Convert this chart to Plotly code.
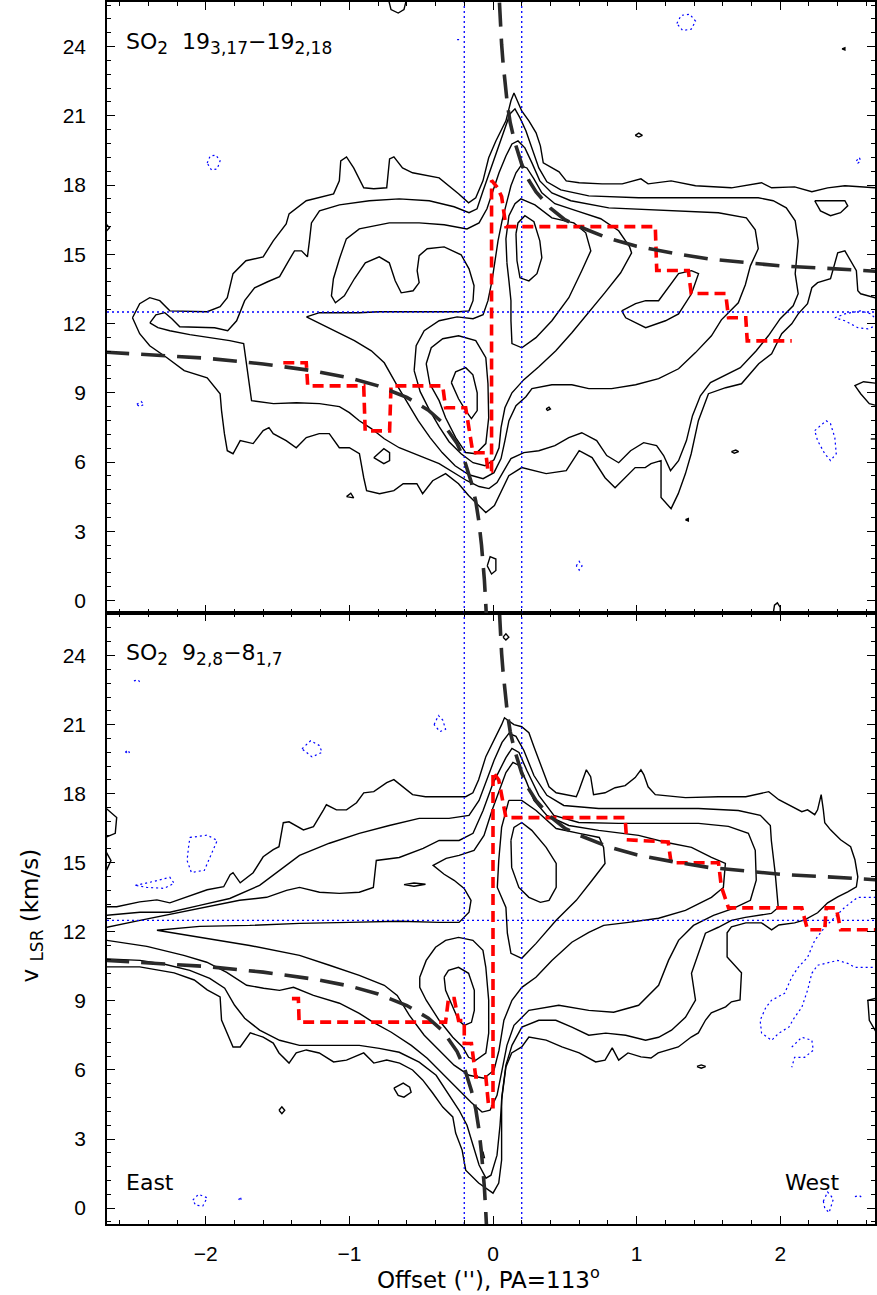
import plotly.graph_objects as go

# ---------------- axes ----------------
X_RANGE = [-2.6875, 2.6597]
V_RANGE_TOP = [-0.54, 25.93]
V_RANGE_BOT = [-0.69, 25.85]

# ---------------- model / overlays ----------------
kep_right = [(0.045, 25.9), (0.05, 25.2), (0.06, 24.1), (0.07, 23.3), (0.08, 22.6), (0.10, 21.5),
             (0.12, 20.7), (0.15, 19.9), (0.20, 18.9), (0.25, 18.2), (0.30, 17.7), (0.40, 17.0),
             (0.50, 16.5), (0.60, 16.2), (0.80, 15.7), (1.0, 15.35), (1.25, 15.05), (1.5, 14.8),
             (1.75, 14.65), (2.0, 14.5), (2.3, 14.4), (2.7, 14.25)]
kep_left = [(-2.7, 10.76), (-2.4, 10.66), (-2.0, 10.5), (-1.6, 10.25), (-1.25, 9.95), (-1.0, 9.65),
            (-0.8, 9.3), (-0.6, 8.8), (-0.45, 8.25), (-0.35, 7.7), (-0.25, 6.8), (-0.2, 6.1),
            (-0.15, 5.1), (-0.12, 4.3), (-0.10, 3.5), (-0.08, 2.4), (-0.07, 1.7), (-0.06, 0.9),
            (-0.05, -0.2), (-0.045, -0.8)]

top_red = [(-1.46, 10.3), (-1.30, 10.3), (-1.29, 9.3), (-0.90, 9.3), (-0.89, 7.35), (-0.72, 7.35),
           (-0.71, 9.3), (-0.35, 9.3), (-0.33, 8.35), (-0.19, 8.35), (-0.14, 6.4), (-0.05, 6.4),
           (-0.035, 5.6), (-0.01, 5.6), (-0.01, 18.2), (0.03, 17.9), (0.06, 17.5), (0.09, 16.2),
           (1.13, 16.2), (1.14, 14.3), (1.36, 14.3), (1.38, 13.3), (1.62, 13.3), (1.64, 12.25),
           (1.76, 12.25), (1.77, 11.25), (2.08, 11.25)]
bot_red = [(-1.40, 9.1), (-1.355, 9.1), (-1.35, 8.08), (-0.33, 8.08), (-0.31, 9.1), (-0.27, 9.1),
           (-0.24, 8.15), (-0.20, 8.15), (-0.20, 7.15), (-0.15, 7.15), (-0.12, 5.7), (-0.05, 5.7),
           (-0.03, 4.4), (0.0, 4.4), (0.0, 18.95), (0.04, 18.6), (0.09, 16.96), (0.92, 16.96),
           (0.93, 16.0), (1.22, 15.9), (1.24, 15.0), (1.57, 15.0), (1.59, 13.96), (1.64, 13.04),
           (2.15, 13.04), (2.19, 12.09), (2.31, 12.09), (2.32, 13.04), (2.39, 13.04), (2.42, 12.09),
           (2.7, 12.09)]

ref_offsets = [-0.2, 0.2]
ref_vsys = 12.5

# ---------------- contours: top panel (SO2 19_3,17-19_2,18) ----------------
top_c1 = [(-2.51, 12.25), (-2.46, 12.86), (-2.39, 13.12), (-2.32, 12.99), (-2.25, 12.55), (-1.99, 12.51),
          (-1.90, 12.73), (-1.85, 13.12), (-1.81, 14.16), (-1.72, 14.72), (-1.60, 14.89), (-1.53, 15.58),
          (-1.44, 16.32), (-1.42, 16.75), (-1.30, 17.32), (-1.11, 17.62), (-1.07, 18.18), (-1.06, 19.05),
          (-1.02, 19.22), (-0.97, 18.74), (-0.90, 17.88), (-0.83, 17.84), (-0.74, 17.88), (-0.72, 19.13),
          (-0.69, 19.22), (-0.63, 18.74), (-0.56, 18.53), (-0.375, 18.31), (-0.24, 17.62), (-0.17, 17.23),
          (-0.12, 17.45), (-0.07, 18.18), (-0.03, 19.18), (0.02, 19.91), (0.09, 20.78), (0.125, 21.65),
          (0.146, 21.99), (0.20, 21.21), (0.25, 20.78), (0.30, 20.26), (0.33, 19.70), (0.35, 18.96),
          (0.46, 18.57), (0.51, 18.18), (0.60, 18.10), (0.76, 18.05), (0.90, 18.05), (1.03, 18.27),
          (1.08, 18.05), (1.24, 18.18), (1.41, 17.97), (1.66, 17.88), (1.87, 18.10), (1.94, 17.88),
          (2.10, 17.92), (2.22, 17.71), (2.33, 17.88), (2.45, 17.97), (2.66, 17.88), (2.75, 17.88),
          (2.75, 13.12), (2.66, 13.12), (2.56, 13.29), (2.54, 13.42), (2.53, 14.29), (2.49, 14.72),
          (2.45, 15.15), (2.40, 15.06), (2.35, 13.94), (2.26, 13.77), (2.22, 13.55), (2.19, 12.86),
          (2.125, 12.42), (2.08, 11.99), (2.01, 11.56), (1.94, 10.69), (1.85, 10.26), (1.73, 9.39),
          (1.62, 9.22), (1.50, 8.96), (1.43, 7.79), (1.38, 6.36), (1.34, 5.50), (1.29, 4.63),
          (1.24, 3.98), (1.17, 4.46), (1.17, 6.06), (1.10, 5.93), (1.06, 5.76), (0.99, 5.76),
          (0.92, 5.32), (0.85, 4.89), (0.78, 5.32), (0.69, 6.19), (0.60, 6.49), (0.51, 5.63),
          (0.37, 5.50), (0.20, 5.76), (0.11, 5.41), (0.06, 4.76), (0.01, 4.11), (-0.05, 3.81),
          (-0.10, 4.11), (-0.17, 4.55), (-0.24, 5.06), (-0.33, 5.50), (-0.42, 5.19), (-0.49, 4.63),
          (-0.53, 5.06), (-0.625, 5.06), (-0.69, 4.76), (-0.79, 4.63), (-0.88, 4.76), (-0.90, 5.32),
          (-0.93, 6.36), (-1.0, 6.62), (-1.07, 6.62), (-1.14, 7.23), (-1.21, 7.23), (-1.30, 7.06),
          (-1.37, 6.62), (-1.44, 6.93), (-1.53, 7.23), (-1.56, 7.49), (-1.60, 7.36), (-1.67, 6.80),
          (-1.76, 6.93), (-1.81, 6.36), (-1.85, 6.49), (-1.87, 7.23), (-1.89, 8.23), (-1.90, 8.96),
          (-1.99, 9.65), (-2.15, 9.96), (-2.27, 10.52), (-2.39, 11.04), (-2.46, 11.56), (-2.51, 12.25)]
top_c2 = [(-2.389, 12.03), (-2.347, 12.38), (-2.285, 12.47), (-2.236, 12.21), (-2.181, 11.86), (-2.042, 11.82),
          (-1.938, 11.82), (-1.847, 11.69), (-1.785, 12.12), (-1.729, 12.99), (-1.66, 13.55), (-1.569, 13.81),
          (-1.486, 14.03), (-1.431, 14.63), (-1.382, 15.15), (-1.333, 15.15), (-1.292, 14.89), (-1.278, 15.58),
          (-1.264, 16.36), (-1.208, 16.88), (-1.069, 17.14), (-0.861, 17.32), (-0.653, 17.40), (-0.444, 17.32),
          (-0.271, 17.06), (-0.167, 16.80), (-0.111, 16.97), (-0.069, 17.75), (-0.021, 18.61), (0.028, 19.48),
          (0.076, 20.35), (0.118, 21.08), (0.153, 21.30), (0.188, 20.91), (0.229, 20.35), (0.271, 19.61),
          (0.319, 18.74), (0.375, 18.14), (0.472, 17.79), (0.667, 17.53), (1.014, 17.45), (1.431, 17.45),
          (1.847, 17.45), (1.951, 17.32), (2.042, 17.01), (2.104, 16.45), (2.125, 15.58), (2.104, 14.16),
          (2.125, 13.29), (2.09, 12.77), (2.0, 12.21), (1.917, 11.47), (1.833, 10.82), (1.722, 10.09),
          (1.604, 9.74), (1.514, 9.44), (1.444, 8.87), (1.389, 8.01), (1.347, 6.93), (1.292, 6.06),
          (1.236, 5.63), (1.188, 6.28), (1.139, 6.71), (1.049, 6.84), (0.958, 6.49), (0.875, 5.97),
          (0.792, 6.28), (0.722, 6.93), (0.618, 7.27), (0.528, 7.06), (0.431, 6.71), (0.319, 6.49),
          (0.215, 6.41), (0.125, 6.15), (0.076, 5.63), (0.028, 5.11), (-0.028, 4.85), (-0.097, 4.94),
          (-0.181, 5.19), (-0.271, 5.54), (-0.375, 5.93), (-0.514, 6.28), (-0.653, 6.62), (-0.757, 7.01),
          (-0.847, 7.45), (-0.931, 7.79), (-1.0, 8.14), (-1.069, 8.40), (-1.208, 8.53), (-1.368, 8.57),
          (-1.528, 8.53), (-1.681, 8.66), (-1.715, 10.09), (-1.736, 11.13), (-1.833, 11.26), (-1.972, 11.39),
          (-2.111, 11.52), (-2.25, 11.69), (-2.333, 11.82), (-2.389, 12.03)]
top_c3 = [(-1.299, 12.29), (-1.208, 12.47), (-1.069, 12.47), (-0.931, 12.47), (-0.792, 12.51), (-0.653, 12.51),
          (-0.514, 12.51), (-0.375, 12.51), (-0.236, 12.51), (-0.167, 12.55), (-0.139, 12.99), (-0.132, 13.64),
          (-0.167, 14.37), (-0.222, 14.98), (-0.34, 15.32), (-0.458, 15.24), (-0.514, 14.94), (-0.528, 14.29),
          (-0.514, 13.77), (-0.556, 13.42), (-0.639, 13.33), (-0.681, 13.85), (-0.722, 14.63), (-0.792, 14.89),
          (-0.889, 14.63), (-0.965, 13.94), (-1.035, 13.20), (-1.097, 12.90), (-1.125, 13.20), (-1.111, 13.94),
          (-1.069, 14.81), (-1.021, 15.67), (-0.931, 16.10), (-0.722, 16.36), (-0.514, 16.36), (-0.34, 16.28),
          (-0.181, 16.10), (-0.097, 16.36), (-0.042, 16.97), (0.0, 17.75), (0.042, 18.53), (0.09, 19.26),
          (0.132, 19.78), (0.174, 19.91), (0.222, 19.61), (0.271, 18.96), (0.326, 18.18), (0.41, 17.66),
          (0.542, 17.32), (0.806, 17.01), (1.222, 16.88), (1.569, 16.80), (1.764, 16.58), (1.826, 16.06),
          (1.847, 15.24), (1.792, 14.50), (1.757, 13.68), (1.708, 12.90), (1.59, 12.16), (1.521, 11.47),
          (1.41, 10.74), (1.292, 10.04), (1.153, 9.61), (0.993, 9.35), (0.826, 9.18), (0.667, 9.18),
          (0.549, 9.35), (0.41, 9.35), (0.271, 9.18), (0.229, 8.83), (0.16, 8.44), (0.111, 7.79),
          (0.083, 6.93), (0.056, 6.15), (0.007, 5.54), (-0.069, 5.28), (-0.167, 5.45), (-0.264, 5.84),
          (-0.354, 6.41), (-0.438, 7.06), (-0.521, 7.79), (-0.597, 8.57), (-0.674, 9.39), (-0.757, 10.30),
          (-0.847, 10.82), (-0.965, 11.26), (-1.104, 11.69), (-1.208, 12.03), (-1.299, 12.29)]
top_c4 = [(-0.549, 9.96), (-0.535, 11.04), (-0.479, 11.69), (-0.375, 12.12), (-0.25, 12.29), (-0.139, 12.21),
          (-0.069, 12.38), (-0.035, 12.99), (-0.007, 13.85), (0.014, 14.72), (0.035, 15.58), (0.063, 16.45),
          (0.097, 17.32), (0.125, 17.97), (0.16, 18.53), (0.194, 18.83), (0.236, 18.74), (0.285, 18.27),
          (0.34, 17.66), (0.431, 17.19), (0.583, 16.88), (0.75, 16.54), (0.875, 16.02), (0.951, 15.32),
          (0.965, 15.06), (0.889, 14.20), (0.778, 13.33), (0.667, 12.47), (0.549, 11.60), (0.4375, 10.82),
          (0.319, 10.13), (0.215, 9.57), (0.132, 9.00), (0.083, 8.35), (0.056, 7.49), (0.042, 6.62),
          (0.007, 6.10), (-0.056, 5.84), (-0.139, 5.97), (-0.222, 6.36), (-0.306, 6.88), (-0.375, 7.53),
          (-0.444, 8.27), (-0.507, 9.05), (-0.549, 9.96)]
top_c5a = [(0.097, 14.63), (0.09, 15.67), (0.111, 16.67), (0.153, 17.19), (0.194, 17.40), (0.292, 17.14),
           (0.41, 16.58), (0.5625, 16.36), (0.646, 15.93), (0.681, 15.15), (0.618, 14.29), (0.528, 13.12),
           (0.41, 12.12), (0.299, 11.39), (0.201, 10.95), (0.132, 11.13), (0.125, 12.12), (0.125, 12.99),
           (0.111, 13.85), (0.097, 14.63)]
top_c6a = [(0.16, 15.89), (0.174, 16.36), (0.222, 16.67), (0.285, 16.41), (0.326, 15.58), (0.34, 14.85),
           (0.306, 14.16), (0.25, 13.85), (0.188, 13.98), (0.167, 14.72), (0.16, 15.89)]
top_c5b = [(-0.465, 10.26), (-0.43, 10.95), (-0.35, 11.34), (-0.24, 11.47), (-0.12, 11.26), (-0.05, 10.52),
           (-0.035, 9.39), (-0.03, 7.92), (-0.05, 6.80), (-0.12, 6.36), (-0.19, 6.41), (-0.26, 7.06),
           (-0.33, 7.92), (-0.375, 8.66), (-0.44, 9.39), (-0.465, 10.26)]
top_c6b = [(-0.29, 9.44), (-0.26, 9.91), (-0.19, 10.09), (-0.14, 9.78), (-0.11, 9.0), (-0.11, 8.23),
           (-0.15, 7.88), (-0.19, 8.23), (-0.24, 8.74), (-0.29, 9.44)]
top_islands = [
    [(0.896, 12.55), (0.993, 12.86), (1.063, 12.99), (1.153, 12.99), (1.292, 14.16), (1.382, 14.29),
     (1.431, 14.16), (1.382, 13.29), (1.292, 12.42), (1.201, 12.12), (1.063, 11.82), (0.924, 12.25), (0.896, 12.55)],
    [(-0.83, 6.19), (-0.76, 6.58), (-0.72, 6.41), (-0.72, 6.06), (-0.76, 5.93), (-0.83, 6.19)],
    [(-1.02, 4.5), (-0.99, 4.65), (-0.97, 4.45), (-1.02, 4.5)],
    [(-0.04, 1.5), (-0.02, 1.9), (0.02, 1.8), (0.02, 1.3), (-0.01, 1.15), (-0.04, 1.5)],
    [(0.99, 20.15), (1.015, 20.25), (1.04, 20.15), (1.015, 20.08), (0.99, 20.15)],
    [(0.37, 8.3), (0.39, 8.38), (0.40, 8.3), (0.38, 8.24), (0.37, 8.3)],
    [(1.66, 6.45), (1.69, 6.52), (1.71, 6.45), (1.68, 6.38), (1.66, 6.45)],
    [(2.24, 17.32), (2.33, 17.32), (2.45, 17.32), (2.47, 17.1), (2.42, 16.8), (2.35, 16.67), (2.28, 16.88), (2.24, 17.32)],
    [(2.70, 9.39), (2.58, 9.48), (2.52, 9.31), (2.56, 8.96), (2.62, 8.53), (2.70, 8.4)],
    [(-0.73, 26.1), (-0.71, 25.6), (-0.66, 25.45), (-0.62, 25.6), (-0.60, 26.1)],
    [(1.95, -0.6), (1.96, -0.2), (1.98, -0.1), (2.0, -0.3), (2.0, -0.6)],
    [(-2.70, 16.35), (-2.67, 16.15), (-2.70, 15.95)],
    [(2.43, 23.9), (2.45, 23.95), (2.45, 23.85), (2.43, 23.9)],
    [(1.34, 3.5), (1.36, 3.55), (1.36, 3.45), (1.34, 3.5)],
    [(2.63, 7.0), (2.66, 7.0)],
]
top_neg = [
    [(-1.99, 18.95), (-1.97, 19.25), (-1.93, 19.3), (-1.90, 19.05), (-1.92, 18.7), (-1.96, 18.65), (-1.99, 18.95)],
    [(-2.48, 8.5), (-2.45, 8.62), (-2.43, 8.5), (-2.46, 8.4), (-2.48, 8.5)],
    [(1.28, 25.0), (1.31, 25.35), (1.37, 25.4), (1.41, 25.1), (1.38, 24.75), (1.32, 24.7), (1.28, 25.0)],
    [(2.53, 19.05), (2.55, 19.2), (2.56, 19.05), (2.54, 18.95), (2.53, 19.05)],
    [(2.24, 7.36), (2.32, 7.79), (2.35, 7.66), (2.38, 7.06), (2.39, 6.36), (2.35, 6.06), (2.31, 6.36), (2.26, 6.93), (2.24, 7.36)],
    [(2.38, 12.25), (2.45, 12.42), (2.56, 12.55), (2.63, 12.42), (2.70, 11.99), (2.61, 11.77), (2.54, 11.82), (2.45, 12.12), (2.38, 12.25)],
    [(0.58, 1.5), (0.60, 1.7), (0.62, 1.5), (0.60, 1.32), (0.58, 1.5)],
    [(-0.25, 24.3), (-0.23, 24.3)],
]

# ---------------- contours: bottom panel (SO2 9_2,8-8_1,7) ----------------
bot_c1 = [(-2.75, 13.09), (-2.62, 13.09), (-2.46, 13.3), (-2.34, 13.39), (-2.25, 13.26), (-2.15, 13.48),
          (-1.99, 13.83), (-1.875, 13.96), (-1.83, 14.48), (-1.81, 14.57), (-1.76, 14.13), (-1.67, 14.57),
          (-1.60, 15.26), (-1.53, 15.57), (-1.49, 15.7), (-1.46, 16.74), (-1.42, 16.78), (-1.32, 16.43),
          (-1.25, 16.57), (-1.18, 17.3), (-1.16, 17.52), (-1.09, 17.3), (-1.02, 17.3), (-0.95, 17.61),
          (-0.90, 18.04), (-0.83, 18.09), (-0.74, 18.48), (-0.69, 18.61), (-0.625, 18.3), (-0.56, 17.96),
          (-0.47, 17.87), (-0.26, 17.87), (-0.19, 17.87), (-0.14, 18.04), (-0.10, 18.61), (-0.05, 19.61),
          (0.02, 20.48), (0.06, 21.0), (0.08, 21.3), (0.146, 21.0), (0.20, 20.91), (0.25, 20.65),
          (0.285, 20.04), (0.32, 19.48), (0.354, 18.91), (0.39, 18.3), (0.44, 18.04), (0.51, 17.96),
          (0.58, 17.87), (0.60, 18.17), (0.63, 18.74), (0.65, 19.04), (0.68, 18.74), (0.70, 17.96),
          (0.78, 18.04), (0.85, 18.26), (0.92, 18.35), (0.99, 18.7), (1.03, 19.04), (1.05, 18.83),
          (1.08, 18.3), (1.13, 17.96), (1.34, 17.83), (1.57, 17.87), (1.76, 17.87), (1.92, 18.09),
          (1.99, 17.74), (2.08, 17.43), (2.15, 17.22), (2.19, 17.3), (2.24, 17.09), (2.26, 17.3),
          (2.28, 17.87), (2.285, 17.96), (2.30, 17.3), (2.31, 16.74), (2.35, 16.43), (2.42, 16.0),
          (2.49, 15.7), (2.52, 15.13), (2.54, 14.39), (2.53, 13.96), (2.47, 13.74), (2.40, 13.52),
          (2.33, 13.26), (2.26, 12.83), (2.17, 12.52), (2.10, 12.39), (1.99, 12.3), (1.94, 12.09),
          (1.87, 12.39), (1.76, 12.39), (1.66, 12.22), (1.63, 11.96), (1.63, 10.91), (1.69, 10.48),
          (1.73, 10.22), (1.72, 9.04), (1.66, 8.96), (1.62, 8.74), (1.52, 8.48), (1.48, 8.17),
          (1.43, 7.61), (1.38, 7.43), (1.29, 7.0), (1.15, 6.74), (1.10, 6.52), (1.03, 6.57),
          (0.94, 6.74), (0.875, 6.43), (0.83, 6.96), (0.78, 6.43), (0.715, 6.35), (0.60, 6.74),
          (0.48, 7.0), (0.37, 7.3), (0.25, 7.43), (0.20, 7.0), (0.13, 6.74), (0.09, 6.13),
          (0.06, 4.7), (0.06, 3.26), (0.06, 2.09), (0.04, 1.09), (0.0, 0.65), (-0.10, 1.09),
          (-0.19, 1.65), (-0.215, 2.52), (-0.26, 3.26), (-0.28, 3.96), (-0.35, 4.39), (-0.42, 5.0),
          (-0.49, 5.57), (-0.56, 6.0), (-0.65, 6.3), (-0.74, 6.43), (-0.83, 6.3), (-0.90, 6.74),
          (-1.02, 6.43), (-1.11, 6.35), (-1.21, 6.74), (-1.30, 6.87), (-1.37, 6.74), (-1.42, 6.3),
          (-1.49, 6.74), (-1.53, 7.17), (-1.60, 7.43), (-1.69, 7.61), (-1.76, 7.0), (-1.81, 7.0),
          (-1.85, 7.61), (-1.89, 8.17), (-1.90, 9.17), (-1.99, 9.48), (-2.08, 9.91), (-2.22, 10.22),
          (-2.34, 10.35), (-2.46, 10.48), (-2.57, 10.48), (-2.75, 10.48)]
bot_c2 = [(-2.771, 12.72), (-2.6875, 12.72), (-2.458, 12.85), (-2.25, 12.85), (-2.042, 13.15), (-1.833, 13.45),
          (-1.625, 14.02), (-1.486, 14.67), (-1.347, 15.32), (-1.139, 15.85), (-0.931, 16.28), (-0.722, 16.62),
          (-0.514, 16.93), (-0.306, 16.93), (-0.167, 17.06), (-0.097, 17.71), (-0.042, 18.58), (0.007, 19.44),
          (0.063, 20.23), (0.111, 20.62), (0.16, 20.49), (0.215, 19.88), (0.285, 18.79), (0.375, 17.93),
          (0.493, 17.49), (0.736, 17.36), (1.083, 17.36), (1.431, 17.36), (1.708, 17.27), (1.861, 17.06),
          (1.931, 16.62), (1.938, 15.97), (1.965, 14.54), (1.986, 13.06), (1.938, 12.80), (1.757, 12.63),
          (1.660, 12.50), (1.569, 12.20), (1.479, 11.94), (1.431, 11.07), (1.382, 10.20), (1.41, 9.03),
          (1.340, 8.29), (1.243, 7.73), (1.153, 7.42), (1.0625, 7.29), (0.924, 7.51), (0.785, 7.60),
          (0.667, 7.51), (0.549, 7.86), (0.4375, 8.16), (0.319, 8.16), (0.201, 7.86), (0.132, 7.07),
          (0.09, 6.21), (0.063, 4.90), (0.049, 3.60), (0.028, 2.30), (-0.014, 1.43), (-0.049, 1.30),
          (-0.097, 1.87), (-0.139, 2.73), (-0.181, 3.60), (-0.236, 4.25), (-0.306, 4.90), (-0.396, 5.77),
          (-0.514, 6.34), (-0.653, 6.77), (-0.792, 6.94), (-0.931, 7.07), (-1.069, 7.07), (-1.208, 7.07),
          (-1.347, 7.07), (-1.486, 7.29), (-1.625, 7.73), (-1.729, 8.25), (-1.799, 8.81), (-1.868, 9.55),
          (-1.972, 9.98), (-2.111, 10.33), (-2.285, 10.59), (-2.458, 10.76), (-2.6875, 10.85), (-2.771, 10.85)]
bot_c3 = [(-2.771, 12.20), (-2.6875, 12.20), (-2.458, 12.50), (-2.222, 12.80), (-1.993, 13.06), (-1.764, 13.37),
          (-1.576, 13.50), (-1.4375, 13.80), (-1.347, 13.93), (-1.208, 13.72), (-1.069, 13.67), (-0.931, 13.72),
          (-0.833, 13.93), (-0.8125, 15.10), (-0.653, 15.23), (-0.486, 15.63), (-0.375, 15.97), (-0.236, 15.97),
          (-0.139, 16.28), (-0.069, 17.27), (0.0, 18.45), (0.09, 19.57), (0.132, 19.97), (0.181, 19.79),
          (0.236, 19.01), (0.319, 17.93), (0.424, 17.06), (0.597, 16.75), (0.875, 16.71), (1.153, 16.71),
          (1.431, 16.71), (1.639, 16.58), (1.778, 16.28), (1.826, 15.54), (1.833, 14.24), (1.792, 13.37),
          (1.674, 13.02), (1.535, 12.72), (1.396, 12.28), (1.292, 11.63), (1.222, 10.76), (1.153, 9.68),
          (1.014, 8.81), (0.840, 8.51), (0.667, 8.59), (0.458, 8.81), (0.25, 8.59), (0.146, 7.94),
          (0.097, 7.07), (0.063, 5.99), (0.028, 4.90), (-0.021, 4.25), (-0.076, 4.17), (-0.153, 4.60),
          (-0.25, 5.21), (-0.354, 5.90), (-0.458, 6.51), (-0.569, 7.07), (-0.708, 7.64), (-0.833, 8.07),
          (-0.931, 8.46), (-1.069, 8.90), (-1.25, 9.24), (-1.389, 9.59), (-1.486, 9.46), (-1.597, 9.55),
          (-1.715, 9.68), (-1.854, 10.24), (-1.993, 10.68), (-2.153, 10.98), (-2.410, 11.37), (-2.6875, 11.63),
          (-2.771, 11.63)]
bot_c4 = [(-2.340, 12.07), (-2.042, 12.24), (-1.694, 12.28), (-1.347, 12.37), (-1.0, 12.41), (-0.653, 12.46),
          (-0.375, 12.41), (-0.236, 12.41), (-0.167, 12.85), (-0.153, 13.37), (-0.201, 13.89), (-0.271, 14.24),
          (-0.34, 14.50), (-0.417, 14.89), (-0.326, 15.19), (-0.236, 15.32), (-0.132, 15.54), (-0.0625, 16.19),
          (-0.007, 17.27), (0.042, 18.14), (0.09, 18.92), (0.139, 19.36), (0.181, 19.23), (0.229, 18.58),
          (0.285, 17.71), (0.375, 17.06), (0.528, 16.62), (0.736, 16.41), (1.014, 16.19), (1.201, 15.89),
          (1.382, 15.67), (1.521, 15.23), (1.618, 14.97), (1.604, 13.93), (1.521, 13.50), (1.340, 12.93),
          (1.153, 12.59), (0.944, 12.41), (0.771, 12.28), (0.667, 11.98), (0.549, 11.55), (0.41, 10.76),
          (0.299, 10.03), (0.201, 9.59), (0.132, 9.03), (0.076, 8.16), (0.042, 6.86), (0.007, 5.99),
          (-0.0625, 5.64), (-0.167, 5.77), (-0.271, 6.21), (-0.375, 6.86), (-0.479, 7.51), (-0.583, 8.38),
          (-0.667, 9.24), (-0.757, 9.68), (-0.931, 10.11), (-1.139, 10.55), (-1.347, 10.98), (-1.694, 11.41),
          (-2.042, 11.76), (-2.340, 12.07)]
bot_c5a = [(0.11, 17.71), (0.20, 17.71), (0.30, 17.27), (0.44, 16.49), (0.60, 16.28), (0.74, 16.10),
           (0.77, 15.67), (0.78, 14.97), (0.69, 14.24), (0.58, 13.37), (0.44, 12.5), (0.30, 11.50),
           (0.20, 10.85), (0.125, 11.07), (0.10, 11.94), (0.09, 13.06), (0.03, 13.93), (0.04, 15.10),
           (0.06, 16.54), (0.11, 17.71)]
bot_c6a = [(0.125, 15.97), (0.146, 16.54), (0.20, 16.75), (0.27, 16.41), (0.37, 15.67), (0.44, 14.97),
           (0.44, 13.93), (0.39, 13.37), (0.33, 13.28), (0.25, 13.50), (0.18, 13.93), (0.13, 14.80),
           (0.125, 15.97)]
bot_c5b = [(-0.51, 10.03), (-0.465, 10.76), (-0.40, 11.33), (-0.33, 11.63), (-0.24, 11.76), (-0.14, 11.63),
           (-0.07, 11.2), (-0.05, 10.46), (-0.03, 9.03), (-0.03, 7.60), (-0.05, 6.73), (-0.12, 6.42),
           (-0.17, 6.55), (-0.21, 6.99), (-0.28, 7.42), (-0.375, 8.16), (-0.465, 9.03), (-0.51, 9.59),
           (-0.51, 10.03)]
bot_c6b = [(-0.34, 10.03), (-0.31, 10.33), (-0.24, 10.46), (-0.17, 10.2), (-0.13, 9.46), (-0.13, 8.59),
           (-0.15, 8.07), (-0.20, 7.94), (-0.24, 8.16), (-0.28, 8.72), (-0.33, 9.46), (-0.34, 10.03)]
bot_islands = [
    [(-0.69, 5.21), (-0.625, 5.43), (-0.58, 5.25), (-0.57, 5.03), (-0.62, 4.82), (-0.66, 4.9), (-0.69, 5.21)],
    [(-1.49, 4.25), (-1.47, 4.4), (-1.45, 4.25), (-1.47, 4.1), (-1.49, 4.25)],
    [(-0.62, 14.05), (-0.55, 14.12), (-0.47, 14.07), (-0.55, 13.98), (-0.62, 14.05)],
    [(1.42, 6.15), (1.45, 6.22), (1.48, 6.15), (1.45, 6.08), (1.42, 6.15)],
    [(0.07, 24.8), (0.09, 24.95), (0.11, 24.8), (0.09, 24.68), (0.07, 24.8)],
    [(2.70, 9.16), (2.61, 9.03), (2.62, 8.16), (2.70, 7.29)],
    [(-2.70, 17.4), (-2.62, 16.97), (-2.63, 16.28), (-2.70, 16.1)],
    [(-2.70, 15.54), (-2.66, 15.1), (-2.70, 14.54)],
    [(-0.08, 2.2), (-0.07, 2.45), (-0.06, 2.2), (-0.08, 2.2)],
]
bot_neg = [
    [(-2.11, 16.1), (-1.99, 16.2), (-1.92, 15.97), (-1.97, 15.23), (-2.01, 14.67), (-2.10, 14.58), (-2.13, 15.1), (-2.12, 15.67), (-2.11, 16.1)],
    [(-2.49, 14.02), (-2.39, 14.15), (-2.25, 14.37), (-2.22, 14.11), (-2.29, 13.89), (-2.41, 13.93), (-2.49, 14.02)],
    [(-1.33, 19.95), (-1.27, 20.3), (-1.21, 20.1), (-1.19, 19.8), (-1.26, 19.6), (-1.33, 19.95)],
    [(-0.41, 21.0), (-0.38, 21.4), (-0.35, 21.2), (-0.33, 20.8), (-0.37, 20.7), (-0.41, 21.0)],
    [(-2.56, 19.8), (-2.54, 19.9), (-2.53, 19.75), (-2.56, 19.8)],
    [(-2.50, 22.9), (-2.47, 22.95), (-2.46, 22.85)],
    [(-2.09, 0.35), (-2.05, 0.6), (-1.99, 0.45), (-2.02, 0.1), (-2.07, 0.12), (-2.09, 0.35)],
    [(-1.77, 0.35), (-1.76, 0.5), (-1.75, 0.3)],
    [(2.30, 0.3), (2.33, 0.7), (2.37, 0.4), (2.34, -0.2), (2.31, 0.0), (2.30, 0.3)],
    [(2.52, 0.5), (2.55, 0.55), (2.57, 0.45)],
    [(2.70, 13.5), (2.54, 13.5), (2.45, 13.07), (2.38, 12.63), (2.31, 12.2), (2.24, 11.63), (2.19, 10.89),
     (2.125, 10.46), (2.08, 10.03), (2.03, 9.33), (1.94, 9.03), (1.90, 8.72), (1.86, 8.16), (1.87, 7.6),
     (1.94, 7.29), (1.99, 7.6), (2.06, 7.86), (2.10, 8.29), (2.15, 8.72), (2.19, 9.46), (2.22, 10.2),
     (2.26, 10.55), (2.40, 10.76), (2.47, 10.63), (2.52, 10.46), (2.70, 10.46)],
    [(2.08, 6.99), (2.15, 7.42), (2.22, 7.29), (2.23, 6.86), (2.17, 6.55), (2.10, 6.55), (2.08, 6.12)],
]

TOP_CONTOURS = [top_c1, top_c2, top_c3, top_c4, top_c5a, top_c6a, top_c5b, top_c6b] + top_islands
BOT_CONTOURS = [bot_c1, bot_c2, bot_c3, bot_c4, bot_c5a, bot_c6a, bot_c5b, bot_c6b] + bot_islands

# ---------------- figure ----------------
fig = go.Figure()


def add_path(pts, xa, ya, color, width, dash="solid"):
    fig.add_trace(go.Scatter(
        x=[p[0] for p in pts], y=[p[1] for p in pts], mode="lines",
        line=dict(color=color, width=width, dash=dash),
        xaxis=xa, yaxis=ya, hoverinfo="skip", showlegend=False))


panels = [("x2", "y2", TOP_CONTOURS, top_neg, top_red, V_RANGE_TOP),
          ("x", "y", BOT_CONTOURS, bot_neg, bot_red, V_RANGE_BOT)]

for xa, ya, conts, negs, red, vr in panels:
    for c in conts:
        add_path(c, xa, ya, "black", 1.4)
    for c in negs:
        add_path(c, xa, ya, "#0000ff", 1.2, "2px,3px")
    for xo in ref_offsets:
        add_path([(xo, vr[0]), (xo, vr[1])], xa, ya, "#0000ff", 1.3, "2px,3px")
    add_path([(X_RANGE[0], ref_vsys), (X_RANGE[1], ref_vsys)], xa, ya, "#0000ff", 1.3, "2px,3px")
    add_path(red, xa, ya, "#ff0000", 3.6, "11px,6px")
    add_path(kep_right, xa, ya, "#2a2a2a", 3.6, "24px,12px")
    add_path(kep_left, xa, ya, "#2a2a2a", 3.6, "24px,12px")

TICK_FONT = "Liberation Sans, Arial, Helvetica, sans-serif"
TEXT_FONT = "DejaVu Sans, Liberation Sans, sans-serif"
axis_common = dict(showline=True, linecolor="black", linewidth=1.6, mirror="ticks",
                   ticks="inside", ticklen=8, tickwidth=1.4, tickcolor="black",
                   showgrid=False, zeroline=False,
                   tickfont=dict(family=TICK_FONT, size=21, color="black"))
minor_x = dict(dtick=0.2, ticklen=4, ticks="inside", tickcolor="black", tickwidth=1.2)
minor_y = dict(dtick=0.6, ticklen=4, ticks="inside", tickcolor="black", tickwidth=1.2)

fig.update_layout(
    width=877, height=1295,
    margin=dict(l=107, r=0, t=1, b=71),
    paper_bgcolor="white", plot_bgcolor="white",
    font=dict(family=TEXT_FONT, color="black"),
    xaxis=dict(range=X_RANGE, domain=[0, 1], anchor="y", dtick=1, tick0=0, minor=minor_x,
               ticklabelstandoff=10, **axis_common),
    xaxis2=dict(range=X_RANGE, domain=[0, 1], anchor="y2", matches="x", dtick=1, tick0=0,
                showticklabels=False, minor=minor_x, **axis_common),
    yaxis=dict(range=V_RANGE_BOT, domain=[0, 0.5], anchor="x", dtick=3, tick0=0, minor=minor_y,
               ticklabelstandoff=15, **axis_common),
    yaxis2=dict(range=V_RANGE_TOP, domain=[0.5, 1], anchor="x2", dtick=3, tick0=0, minor=minor_y,
                ticklabelstandoff=15, **axis_common),
)


def sub(s):
    return "<sub><span style='font-size:17px'>" + s + "</span></sub>"


ann_font = dict(family=TEXT_FONT, size=22, color="black")
fig.add_annotation(text="SO" + sub("2") + "  19" + sub("3,17") + "\u221219" + sub("2,18"),
                   xref="paper", yref="paper", x=0.022, y=0.966, xanchor="left", yanchor="middle",
                   showarrow=False, font=ann_font)
fig.add_annotation(text="SO" + sub("2") + "  9" + sub("2,8") + "\u22128" + sub("1,7"),
                   xref="paper", yref="paper", x=0.022, y=0.466, xanchor="left", yanchor="middle",
                   showarrow=False, font=ann_font)
fig.add_annotation(text="East", xref="paper", yref="paper", x=0.022, y=0.034,
                   xanchor="left", yanchor="middle", showarrow=False, font=ann_font)
fig.add_annotation(text="West", xref="paper", yref="paper", x=0.956, y=0.034,
                   xanchor="right", yanchor="middle", showarrow=False, font=ann_font)
fig.add_annotation(text="Offset (''), PA=113<sup>o</sup>", xref="paper", yref="paper", x=0.497, y=-0.0445,
                   xanchor="center", yanchor="middle", showarrow=False,
                   font=dict(family=TEXT_FONT, size=23, color="black"))
fig.add_annotation(text="v " + sub("LSR") + " (km/s)", xref="paper", yref="paper", x=-0.097,
                   y=0.252, xanchor="center", yanchor="middle", textangle=-90, showarrow=False,
                   font=dict(family=TEXT_FONT, size=23, color="black"))

fig.write_html("out.html")
